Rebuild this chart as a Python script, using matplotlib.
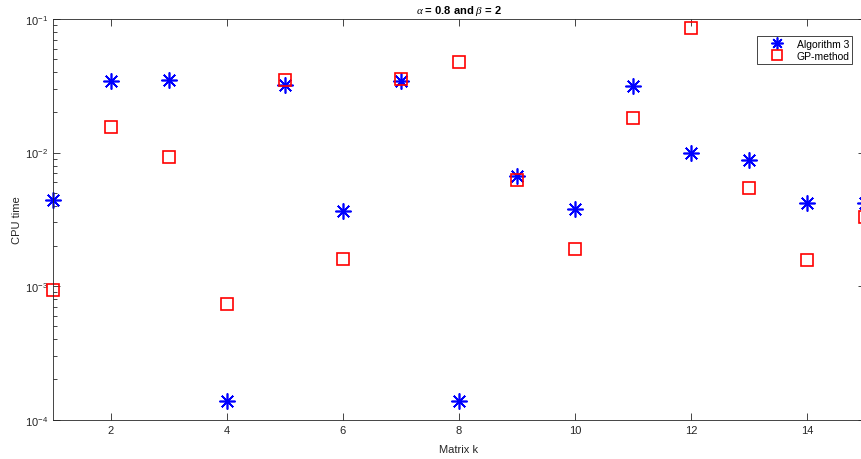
import matplotlib
matplotlib.use('Agg')
import matplotlib.pyplot as plt
import numpy as np

plt.rcParams['font.family'] = ['Liberation Sans', 'DejaVu Sans']
plt.rcParams['mathtext.fontset'] = 'custom'
plt.rcParams['mathtext.rm'] = 'Liberation Sans'
plt.rcParams['mathtext.it'] = 'Liberation Serif:italic'

# data
matrix_k = np.arange(1, 16)
alg3_time = [4.38e-3, 0.0341, 0.0348, 1.38e-4, 0.0321, 3.65e-3, 0.0344, 1.38e-4,
             6.68e-3, 3.76e-3, 0.0316, 9.9e-3, 8.8e-3, 4.17e-3, 4.17e-3]
gp_time = [9.38e-4, 0.0155, 9.27e-3, 7.33e-4, 0.0347, 1.59e-3, 0.0355, 0.0473,
           6.2e-3, 1.9e-3, 0.0182, 0.085, 5.4e-3, 1.57e-3, 3.29e-3]
x_ticks = [2, 4, 6, 8, 10, 12, 14]

fig = plt.figure(figsize=(8.62, 4.6), dpi=100)
ax = fig.add_axes([53 / 862, 1 - 420.7 / 460, 812 / 862, 400.7 / 460])

ax.plot(matrix_k, alg3_time, linestyle='none', marker=(8, 2, 0), markersize=11.5,
        markeredgewidth=1.2, color='#0000ff', label='Algorithm 3', clip_on=False)
ax.plot(matrix_k, gp_time, linestyle='none', marker='s', markersize=9,
        markeredgewidth=1.2, markerfacecolor='none', markeredgecolor='#ff0000',
        label='GP-method', clip_on=False)

ax.set_yscale('log')
ax.set_ylim(1e-4, 1e-1)
ax.set_xlim(1, 15)
ax.set_xticks(x_ticks)
ax.tick_params(which='both', direction='in', top=True, right=True,
               labelsize=8, colors='#262626', width=0.6)
ax.tick_params(which='major', length=5)
ax.tick_params(which='minor', length=3)
for s in ax.spines.values():
    s.set_color('#262626')
    s.set_linewidth(0.6)

ax.set_title(r'$\alpha$ = 0.8 and $\beta$ = 2', fontsize=8, fontweight='bold', pad=4)
ax.set_xlabel('Matrix k', fontsize=8, color='#262626', labelpad=7)
ax.set_ylabel('CPU time', fontsize=8, color='#262626', labelpad=2)

leg = ax.legend(loc='upper right', bbox_to_anchor=(0.991, 0.97), fontsize=7.5,
                fancybox=False, edgecolor='#262626', framealpha=1,
                handlelength=3.4, handletextpad=0.2, borderpad=0.25,
                labelspacing=0.2, markerscale=0.75)
leg.get_frame().set_linewidth(0.6)

fig.savefig('out.png', dpi=100)
